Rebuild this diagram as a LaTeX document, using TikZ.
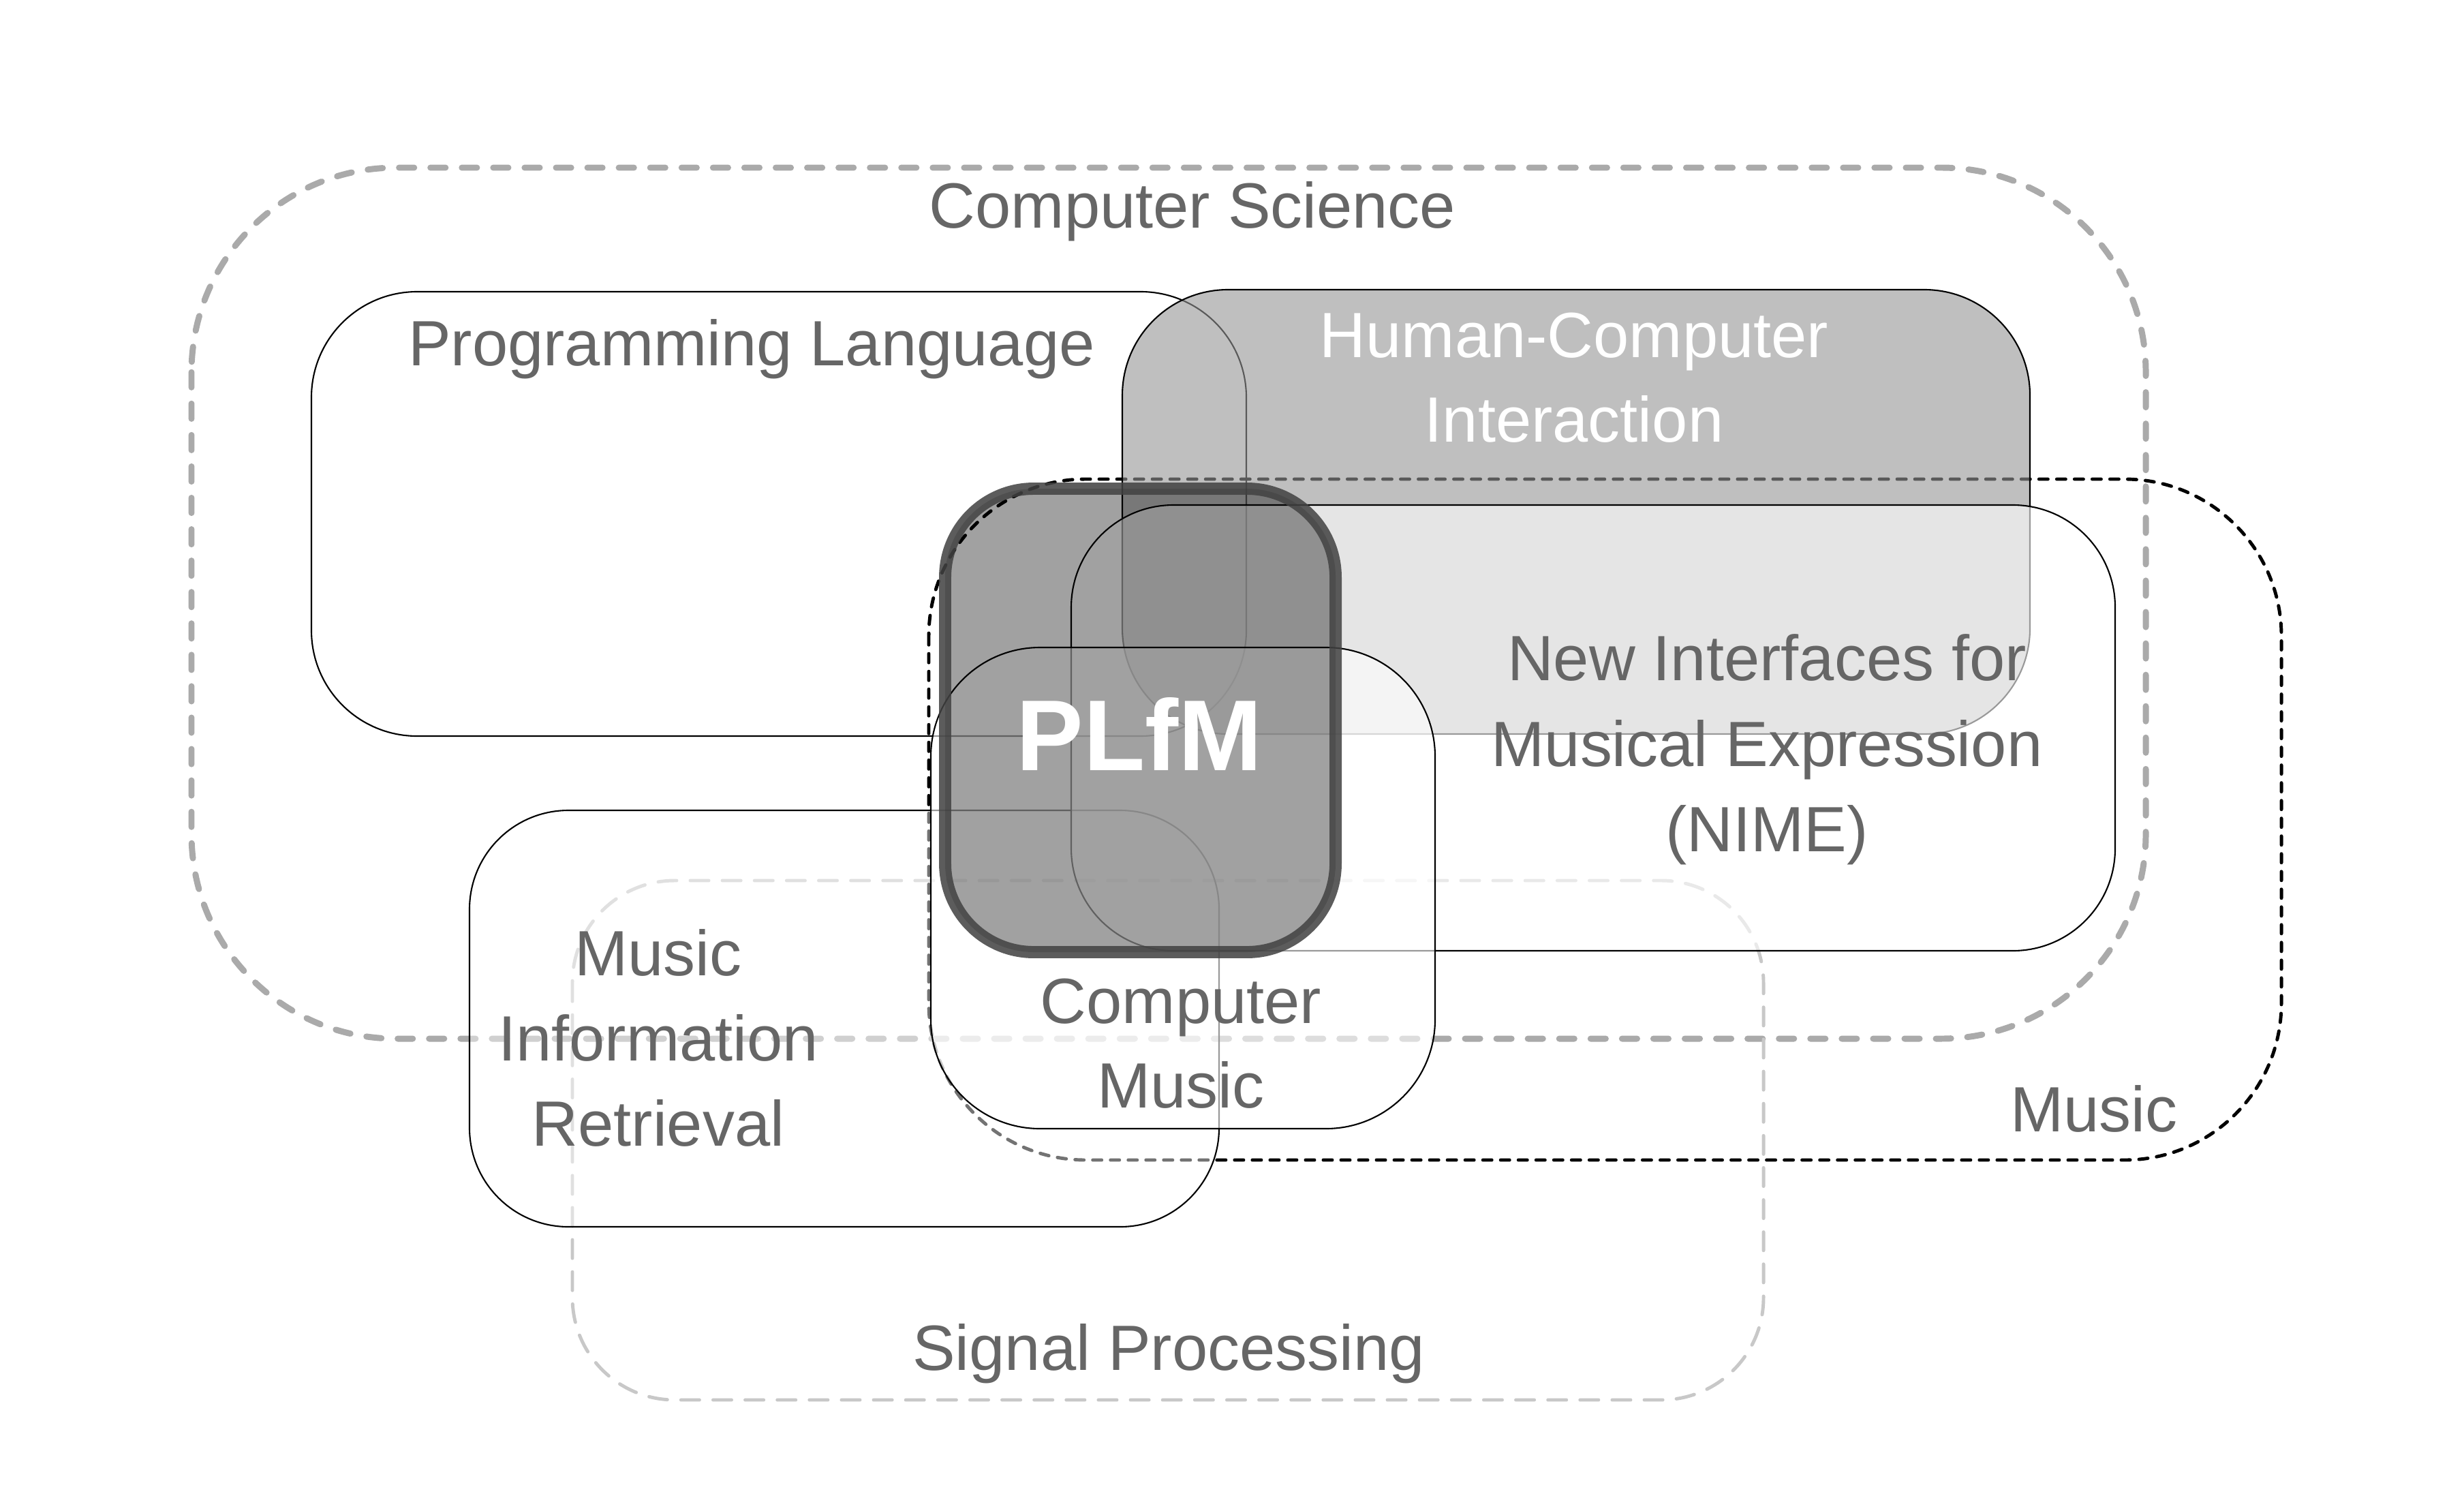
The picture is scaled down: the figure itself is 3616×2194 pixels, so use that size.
\documentclass[tikz,border=0pt]{standalone}
\usepackage{fontspec}
\setmainfont{Liberation Sans}
\definecolor{labgray}{HTML}{666666}
\definecolor{csgray}{HTML}{AAAAAA}
\definecolor{spgray}{HTML}{C8C8C8}
\definecolor{hcigray}{HTML}{959595}
\definecolor{plfmstroke}{HTML}{424242}
\tikzset{
  lab/.style={font=\fontsize{26.7}{34}\selectfont, text=labgray, anchor=base, inner sep=0pt},
  wlab/.style={lab, text=white},
  thinbox/.style={draw=black, line width=0.6pt},
  csbox/.style={draw=csgray, line width=2.55pt, line cap=round, dash pattern=on 6.3pt off 6.8pt, rounded corners=3cm},
  spbox/.style={draw=spgray, line width=1.4pt, line cap=round, dash pattern=on 7.7pt off 5.7pt, rounded corners=1.5cm},
  musbox/.style={draw=black, line width=1.4pt, line cap=round, dash pattern=on 3.7pt off 3.7pt, rounded corners=2.3cm},
  whitebox/.style={thinbox, fill=white, fill opacity=#1, rounded corners=1.5cm},
  plfmbox/.style={draw=plfmstroke, draw opacity=0.86, line width=5.1pt, fill=black, fill opacity=0.37, rounded corners=1.3cm}
}
\begin{document}
\begin{tikzpicture}[x=0.01cm, y=-0.01cm]
\useasboundingbox (0,0) rectangle (3616,2194);
\fill[white] (0,0) rectangle (3616,2194);
% Computer Science
\draw[csbox] (281,246) rectangle (3149,1524);
% Signal Processing
\draw[spbox] (840,1292) rectangle (2588,2054);
% Programming Language
\draw[thinbox, rounded corners=1.55cm] (457,428) rectangle (1829,1080);
% Music
\draw[musbox] (1363,703) rectangle (3348,1702);
% Human-Computer Interaction
\draw[thinbox, fill=hcigray, fill opacity=0.6, rounded corners=1.55cm] (1647,425) rectangle (2979,1077);
% Music Information Retrieval
\draw[whitebox=0.45, rounded corners=1.45cm] (689,1189) rectangle (1789,1800);
% NIME
\draw[whitebox=0.6] (1572,741) rectangle (3104,1395);
% Computer Music
\draw[whitebox=0.6, rounded corners=1.6cm] (1366,950) rectangle (2106,1656);
% PLfM
\draw[plfmbox] (1387,717) rectangle (1960,1397);
% labels
\node[lab] (cs) at (1750,334) {Computer Science};
\node[lab] (pl) at (1103,536) {Programming Language};
\node[wlab] (hci1) at (2310,524) {Human-Computer};
\node[wlab] (hci2) at (2310,648) {Interaction};
\node[lab] (nime1) at (2593,998) {New Interfaces for};
\node[lab] (nime2) at (2593,1124) {Musical Expression};
\node[lab] (nime3) at (2593,1249) {(NIME)};
\node[wlab, font=\bfseries\fontsize{42}{50}\selectfont] (plfm) at (1672,1130) {PLfM};
\node[lab] (cm1) at (1733,1501) {Computer};
\node[lab] (cm2) at (1733,1625) {Music};
\node[lab] (mir1) at (966,1431) {Music};
\node[lab] (mir2) at (966,1556) {Information};
\node[lab] (mir3) at (966,1681) {Retrieval};
\node[lab] (mus) at (3073,1660) {Music};
\node[lab] (sp) at (1715,2010) {Signal Processing};
\end{tikzpicture}
\end{document}
